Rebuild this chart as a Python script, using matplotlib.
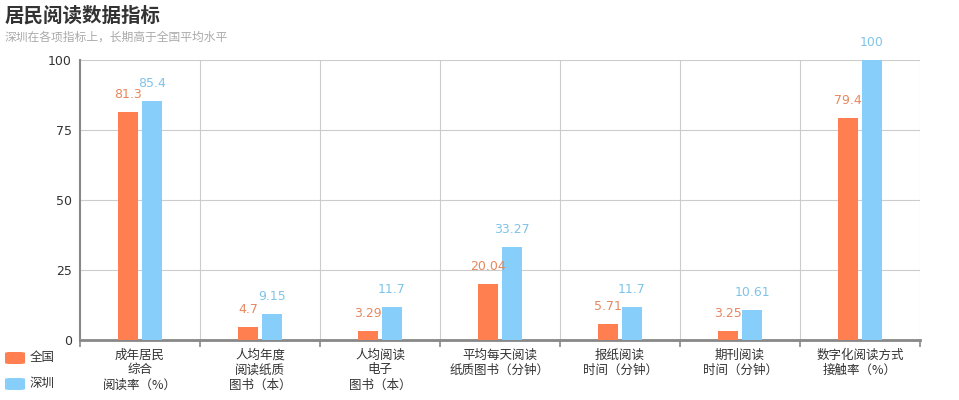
"""居民阅读数据指标 grouped bar chart."""

import matplotlib.pyplot as plt
from matplotlib.patches import FancyBboxPatch

plt.rcParams["font.family"] = ["Noto Sans CJK SC", "DejaVu Sans"]

categories = [
    "成年居民\n综合\n阅读率（%）",
    "人均年度\n阅读纸质\n图书（本）",
    "人均阅读\n电子\n图书（本）",
    "平均每天阅读\n纸质图书（分钟）",
    "报纸阅读\n时间（分钟）",
    "期刊阅读\n时间（分钟）",
    "数字化阅读方式\n接触率（%）",
]
national = [81.3, 4.7, 3.29, 20.04, 5.71, 3.25, 79.4]
shenzhen = [85.4, 9.15, 11.7, 33.27, 11.7, 10.61, 100]
series_names = ["全国", "深圳"]
y_ticks = [0, 25, 50, 75, 100]

ORANGE = "#FF7F50"
BLUE = "#87CEFA"
GRID = "#cccccc"
AXIS = "#888888"

fig = plt.figure(figsize=(9.59, 4.0), dpi=100)
ax = fig.add_axes([80 / 959, 60 / 400, 840 / 959, 280 / 400])

x = list(range(len(categories)))
width = 0.17
offset = 0.1

bars_n = ax.bar([i - offset for i in x], national, width, color=ORANGE, zorder=3)
bars_s = ax.bar([i + offset for i in x], shenzhen, width, color=BLUE, zorder=3)

for bars, vals, col in [(bars_n, national, "#E8875E"), (bars_s, shenzhen, "#7FC4E8")]:
    for b, v in zip(bars, vals):
        ax.annotate(
            f"{v:g}",
            (b.get_x() + b.get_width() / 2, v),
            xytext=(0, 8),
            textcoords="offset points",
            ha="center",
            va="bottom",
            fontsize=9,
            color=col,
            family="DejaVu Sans",
            annotation_clip=False,
        )

ax.set_xlim(-0.5, len(categories) - 0.5)
ax.set_ylim(0, 100)

# grid lines
for yv in y_ticks[1:]:
    ax.axhline(yv, color=GRID, linewidth=0.8, zorder=1)
for i in range(len(categories)):
    ax.axvline(i + 0.5, color=GRID, linewidth=0.8, zorder=1)

ax.set_yticks(y_ticks)
ax.set_yticklabels([str(t) for t in y_ticks], family="DejaVu Sans")
ax.tick_params(axis="y", length=0, labelsize=9, colors="#333333", pad=6)

ax.set_xticks([i + 0.5 for i in range(-1, len(categories))], minor=False)
ax.set_xticklabels([])
ax.tick_params(axis="x", direction="out", length=5, width=1.2, color=AXIS)
for i, lab in enumerate(categories):
    ax.text(
        i, -0.03, lab,
        transform=ax.get_xaxis_transform(),
        ha="center", va="top",
        fontsize=9, color="#333333", linespacing=1.2,
    )

for side in ["top", "right"]:
    ax.spines[side].set_visible(False)
ax.spines["left"].set_color(AXIS)
ax.spines["left"].set_linewidth(1.5)
ax.spines["bottom"].set_color(AXIS)
ax.spines["bottom"].set_linewidth(2)

# title and subtitle
fig.text(5 / 959, 1 - 16 / 400, "居民阅读数据指标", fontsize=14, fontweight="bold",
         color="#333333", va="center", ha="left")
fig.text(5 / 959, 1 - 37 / 400, "深圳在各项指标上，长期高于全国平均水平", fontsize=8.5,
         color="#aaaaaa", va="center", ha="left")

# legend
for j, (name, col) in enumerate(zip(series_names, [ORANGE, BLUE])):
    yc = 358 + j * 26
    patch = FancyBboxPatch(
        (5 / 959, 1 - (yc + 6) / 400), 20 / 959, 12 / 400,
        boxstyle="round,pad=0,rounding_size=0.006",
        transform=fig.transFigure, facecolor=col, edgecolor="none",
        mutation_aspect=400 / 959,
    )
    fig.patches.append(patch)
    fig.text(30 / 959, 1 - yc / 400, name, fontsize=9, color="#333333",
             va="center", ha="left")

fig.savefig("out.png", dpi=100)
